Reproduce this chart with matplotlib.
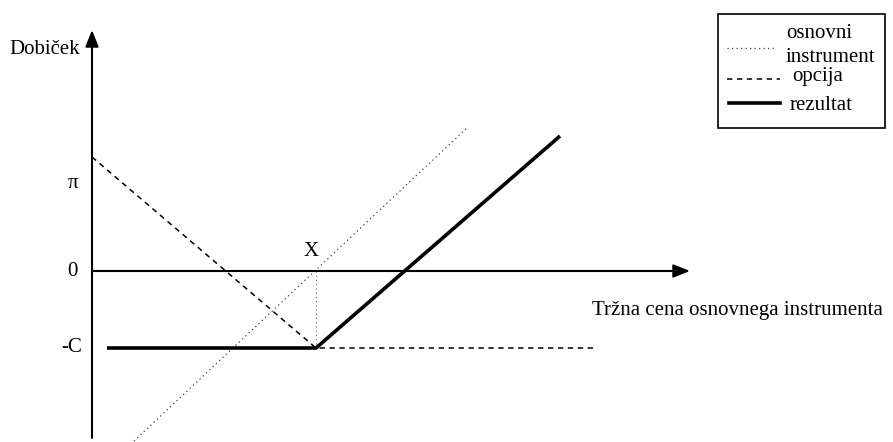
import matplotlib.pyplot as plt

# values measured from origin (axis crossing), in picture units
x_strike = 224          # X
cost = 77               # C (option premium)
pi_level = 88           # pi

# underlying instrument (dotted)
under_x = [42, 376]
under_y = [-170, 144]
# option (dashed)
opt_x = [0, x_strike, 503]
opt_y = [114, -cost, -cost]
# result (solid)
res_x = [15, x_strike, 468]
res_y = [-cost, -cost, 135]

# axis extents
x_axis_end = 598
y_axis_top = 241
y_axis_bottom = -167

plt.rcParams['font.family'] = ['Liberation Serif', 'DejaVu Serif']

fig = plt.figure(figsize=(8.93, 4.42), dpi=100)
ax = fig.add_axes([0, 0, 1, 1])
ax.set_xlim(-92, 801)
ax.set_ylim(-171, 271)
ax.axis('off')

##### axes with arrows #####
arrow = dict(arrowstyle='-|>,head_length=0.5,head_width=0.2', lw=1.5,
             color='black', shrinkA=0, shrinkB=0, mutation_scale=20)
ax.annotate('', xy=(0, y_axis_top), xytext=(0, y_axis_bottom), arrowprops=arrow)
ax.annotate('', xy=(x_axis_end, 0), xytext=(0, 0), arrowprops=arrow)

##### lines #####
ax.plot([x_strike, x_strike], [0, -cost], color='#666666', lw=0.8,
        linestyle=(0, (1, 2.8)))
l_under, = ax.plot(under_x, under_y, color='#444444', lw=0.9,
                   linestyle=(0, (1, 2.6)))
l_opt, = ax.plot(opt_x, opt_y, color='black', lw=1.1, linestyle=(0, (3.5, 3)))
l_res, = ax.plot(res_x, res_y, color='black', lw=2.6, solid_capstyle='butt')

##### labels #####
fs = 15
ax.text(-12, 221, 'Dobiček', fontsize=fs, ha='right', va='center')
ax.text(-14, pi_level, 'π', fontsize=fs, ha='right', va='center')
ax.text(-14, 0, '0', fontsize=fs, ha='right', va='center')
ax.text(-10, -cost, '-C', fontsize=fs, ha='right', va='center')
ax.text(x_strike - 5, 20, 'X', fontsize=fs, ha='center', va='center')
ax.text(500, -40, 'Tržna cena osnovnega instrumenta', fontsize=fs,
        ha='left', va='center')

##### legend box (drawn by hand) #####
box = plt.Rectangle((626, 143), 167, 114, fill=False, lw=1.2, color='black')
ax.add_patch(box)
ax.plot([635, 684], [223, 223], color='#444444', lw=0.9, linestyle=(0, (1, 2.6)))
ax.plot([635, 688], [192, 192], color='black', lw=1.1, linestyle=(0, (3.5, 3)))
ax.plot([637, 688], [168, 168], color='black', lw=2.6)
ax.text(694, 238, 'osnovni', fontsize=fs, ha='left', va='center')
ax.text(694, 213, 'instrument', fontsize=fs, ha='left', va='center')
ax.text(700, 194, 'opcija', fontsize=fs, ha='left', va='center')
ax.text(698, 166, 'rezultat', fontsize=fs, ha='left', va='center')

fig.savefig('out.png', dpi=100)
